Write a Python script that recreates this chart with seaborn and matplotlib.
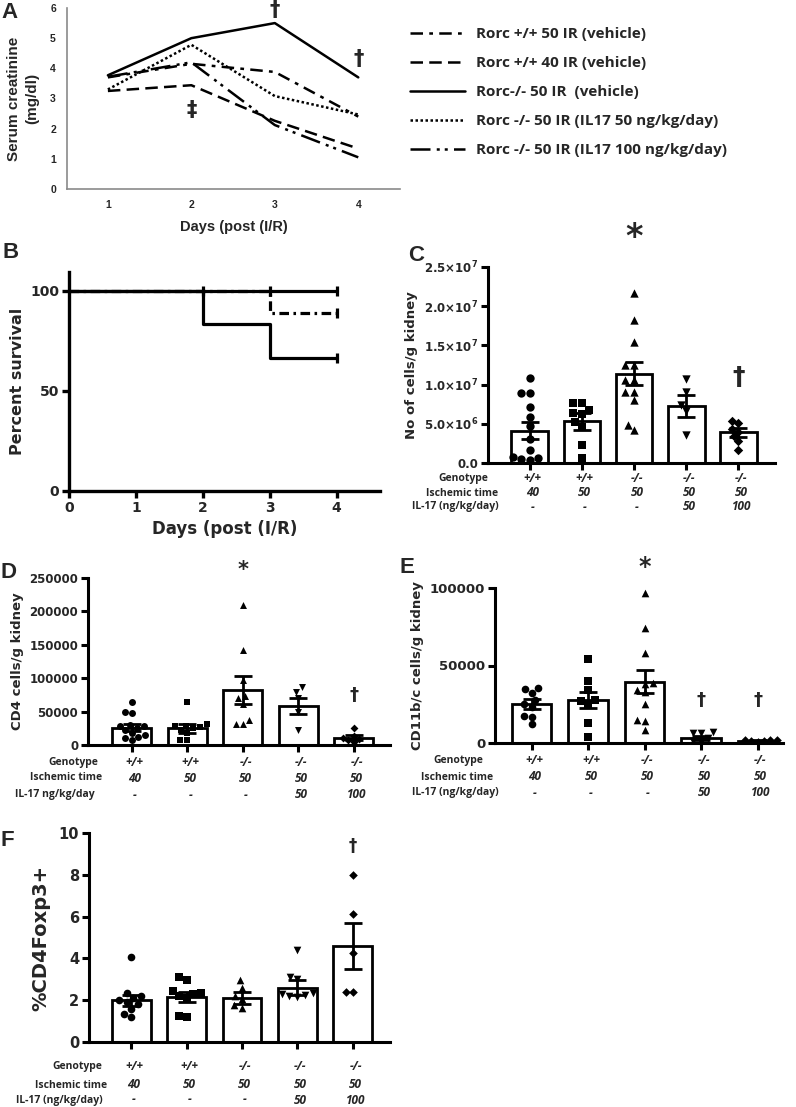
import numpy as np
import pandas as pd
import matplotlib
matplotlib.use('Agg')
import matplotlib.pyplot as plt
from matplotlib.ticker import FuncFormatter
import seaborn as sns

sns.set_theme(style='ticks')
plt.rcParams['font.family'] = ['DejaVu Sans']
plt.rcParams['font.weight'] = 'bold'
plt.rcParams['axes.labelweight'] = 'bold'
plt.rcParams['mathtext.default'] = 'bf'

W, H = 796, 1107
ARIAL = 'Liberation Sans'
CALIBRI = 'Open Sans'

# A - serum creatinine (mg/dl)
days_a = [1, 2, 3, 4]
creat_labels = ['Rorc +/+ 50 IR (vehicle)', 'Rorc +/+ 40 IR (vehicle)', 'Rorc-/- 50 IR  (vehicle)',
                'Rorc -/- 50 IR (IL17 50 ng/kg/day)', 'Rorc -/- 50 IR (IL17 100 ng/kg/day)']
creat_wt50 = [3.7, 4.15, 3.88, 2.4]
creat_wt40 = [3.25, 3.44, 2.26, 1.34]
creat_ko = [3.77, 5.0, 5.5, 3.7]
creat_il50 = [3.3, 4.78, 3.08, 2.47]
creat_il100 = [3.72, 4.2, 2.12, 1.05]

# B - percent survival
surv_days = [0, 2, 3, 4]
surv_labels = ['Rorc +/+', 'Rorc +/+ 50', 'Rorc-/- 50']
surv_wt = [100, 100, 100, 100]
surv_wt50 = [100, 100, 88.9, 88.9]
surv_ko = [100, 83.3, 66.7, 66.7]
censor_days = [2, 3, 4, 4, 4]
censor_pct = [100, 100, 100, 88.9, 66.7]

# groups for C-F
groups = ['wt40', 'wt50', 'ko50', 'ko50_il50', 'ko50_il100']
genotype = ['+/+', '+/+', '-/-', '-/-', '-/-']
isch_time = ['40', '50', '50', '50', '50']
il17_dose = ['-', '-', '-', '50', '100']
markers = ['o', 's', '^', 'v', 'D']

# C - total cells per g kidney
c_pts = [[10.8e6, 8.9e6, 8.9e6, 7.1e6, 5.9e6, 4.7e6, 3.1e6, 1.7e6, 0.8e6, 0.6e6, 0.5e6, 0.4e6],
         [7.7e6, 7.7e6, 6.8e6, 6.4e6, 6.2e6, 5.2e6, 4.6e6, 2.3e6, 0.6e6],
         [21.7e6, 18.2e6, 15.4e6, 12.5e6, 12.5e6, 10.6e6, 10.6e6, 9.1e6, 9.1e6, 8.0e6, 4.9e6, 4.2e6],
         [10.7e6, 9.0e6, 7.4e6, 6.6e6, 3.6e6],
         [5.4e6, 5.1e6, 4.4e6, 4.0e6, 3.4e6, 2.8e6, 1.7e6]]
c_mean = [4.1e6, 5.3e6, 11.4e6, 7.3e6, 3.9e6]
c_sem = [1.1e6, 1.05e6, 1.5e6, 1.4e6, 0.55e6]

# D - CD4 cells per g kidney
d_pts = [[64000, 50000, 48000, 30000, 29000, 28000, 26000, 22000, 18000, 15000, 12000, 10000, 7000],
         [64000, 31000, 29000, 28000, 27000, 25000, 22000, 18000, 8000, 7000],
         [209000, 142000, 97000, 73000, 70000, 62000, 37000, 32000, 32000],
         [87000, 80000, 70000, 50000, 23000],
         [26000, 14000, 11000, 9000, 7000, 5000]]
d_mean = [26000, 25000, 82500, 58500, 11000]
d_sem = [5000, 6500, 21500, 12500, 4000]

# E - CD11b/c cells per g kidney
e_pts = [[35500, 35000, 32500, 27500, 25000, 23000, 17500, 17000, 12000],
         [54500, 40000, 34000, 28000, 27000, 25000, 13000, 4000],
         [97000, 74000, 58000, 38500, 38000, 34000, 33000, 25000, 15000, 14500, 8500],
         [7000, 6500, 6500, 3000, 1500, 500],
         [2200, 2000, 1800, 1500, 1200, 900]]
e_mean = [25000, 27700, 39600, 3200, 1500]
e_sem = [3200, 5000, 7500, 1000, 300]

# F - % CD4 Foxp3+
f_pts = [[4.05, 2.35, 2.2, 2.1, 2.0, 1.9, 1.8, 1.6, 1.35, 1.2],
         [3.1, 2.95, 2.45, 2.35, 2.3, 2.2, 2.1, 1.25, 1.2],
         [2.95, 2.6, 2.2, 2.05, 1.75, 1.65],
         [4.4, 3.1, 3.0, 2.35, 2.3, 2.25, 2.2, 2.15],
         [7.97, 6.14, 4.26, 2.39, 2.39]]
f_mean = [2.0, 2.15, 2.1, 2.6, 4.6]
f_sem = [0.26, 0.24, 0.29, 0.35, 1.1]


fig = plt.figure(figsize=(W / 100, H / 100), dpi=100)


def px_axes(l, t, r, b):
    return fig.add_axes([l / W, 1 - b / H, (r - l) / W, (b - t) / H])


def fig_text(x, y, s, **kw):
    fig.text(x / W, 1 - y / H, s, **kw)


def style_gp(ax, lw=2.2):
    sns.despine(ax=ax)
    for sp in ['left', 'bottom']:
        ax.spines[sp].set_linewidth(lw)
        ax.spines[sp].set_color('black')
    ax.tick_params(width=lw, length=5, direction='out', color='black', pad=2)


# ---------------- A ----------------
axA = px_axes(67, 8, 400, 189)
df_a = pd.DataFrame({'day': days_a * 5,
                     'creat': creat_wt50 + creat_wt40 + creat_ko + creat_il50 + creat_il100,
                     'group': np.repeat(creat_labels, len(days_a))})
dash_map = {creat_labels[0]: (5, 2.5, 1.5, 2.5),
            creat_labels[1]: (5, 2.5),
            creat_labels[2]: '',
            creat_labels[3]: (1, 1),
            creat_labels[4]: (8, 2.5, 1.2, 2, 1.2, 2.5)}
sns.lineplot(data=df_a, x='day', y='creat', style='group', style_order=creat_labels,
             dashes=dash_map, color='black', lw=1.8, estimator=None, sort=False, ax=axA)
leg = axA.get_legend()
handles = leg.legend_handles
labels = [t.get_text() for t in leg.get_texts()]
leg.remove()
for h in handles:
    h.set_linewidth(1.8)
    h.set_color('black')
fig.legend(handles, labels, loc='upper left', bbox_to_anchor=(410 / W, 1 - 27 / H),
           frameon=False, handlelength=3.6, labelspacing=0.98, handletextpad=0.75,
           borderaxespad=0, borderpad=0,
           prop=dict(family=CALIBRI, weight='bold', size=11))
axA.set_xlim(0.51, 4.5)
axA.set_ylim(0, 6)
axA.set_xticks(days_a)
axA.set_yticks(range(0, 7))
sns.despine(ax=axA)
for sp in ['left', 'bottom']:
    axA.spines[sp].set_color('#8a8a8a')
    axA.spines[sp].set_linewidth(1.2)
axA.tick_params(length=0, labelsize=7.5, pad=8)
for t in axA.get_xticklabels() + axA.get_yticklabels():
    t.set_family(ARIAL)
    t.set_weight('bold')
axA.set_xlabel('Days (post (I/R)', family=ARIAL, fontsize=10.5, labelpad=7)
axA.set_ylabel('Serum creatinine\n(mg/dl)', family=ARIAL, fontsize=11, linespacing=1.35, labelpad=8)
axA.text(3, 5.93, '\u2020', ha='center', va='center', fontsize=15, fontweight='bold')
axA.text(4, 4.3, '\u2020', ha='center', va='center', fontsize=15, fontweight='bold')
axA.text(2, 2.62, '\u2021', ha='center', va='center', fontsize=15, fontweight='bold')

# ---------------- B ----------------
axB = px_axes(69, 272, 380, 491)
df_b = pd.DataFrame({'day': surv_days * 3,
                     'pct': surv_wt + surv_wt50 + surv_ko,
                     'group': np.repeat(surv_labels, len(surv_days))})
sns.lineplot(data=df_b, x='day', y='pct', style='group', style_order=surv_labels,
             dashes={surv_labels[0]: '', surv_labels[1]: (3, 1.4, 0.8, 1.4), surv_labels[2]: ''},
             color='black', lw=2.3, estimator=None, sort=False, drawstyle='steps-post',
             legend=False, ax=axB)
sns.scatterplot(x=censor_days, y=censor_pct, marker='|', s=45, color='black', linewidth=2.3,
                ax=axB, zorder=5, clip_on=False)
axB.set_xlim(0, 4.65)
axB.set_ylim(0, 109.5)
axB.set_xticks([0, 1, 2, 3, 4])
axB.set_yticks([0, 50, 100])
style_gp(axB, 2.4)
axB.tick_params(labelsize=10)
axB.set_xlabel('Days (post (I/R)', fontsize=12, labelpad=4)
axB.set_ylabel('Percent survival', fontsize=11.5, labelpad=4)


# ---------------- bar panels ----------------
def bar_panel(ax, pts, means, sems, msize):
    sns.barplot(x=groups, y=means, order=groups, color='white', edgecolor='black',
                linewidth=2, width=0.7, errorbar=None, ax=ax, zorder=2)
    ax.errorbar(range(len(groups)), means, yerr=sems, fmt='none', ecolor='black',
                elinewidth=2, capsize=6.5, capthick=2, zorder=4)
    for g, vals, mk in zip(groups, pts, markers):
        sns.swarmplot(x=[g] * len(vals), y=vals, order=groups, marker=mk, color='black',
                      size=msize * (0.8 if mk == 'D' else 1), ax=ax, zorder=5)
    style_gp(ax)
    ax.tick_params(labelbottom=False)
    ax.set_xlabel('')


def group_rows(ax, bottom_px, rows_px, head_x, heads, size=7.5):
    for vals, ry in zip([genotype, isch_time, il17_dose], rows_px):
        off = (ry - bottom_px) * 0.72
        for i, v in enumerate(vals):
            ax.annotate(v, xy=(i, 0), xycoords=('data', 'axes fraction'),
                        xytext=(2, -off), textcoords='offset points', ha='center', va='center',
                        family=CALIBRI, style='italic', weight='bold', fontsize=size + 1,
                        annotation_clip=False)
    for hx, ry, h in zip(head_x, rows_px, heads):
        fig_text(hx, ry, h, ha='center', va='center', family=CALIBRI, weight='bold', fontsize=size)


def sig(ax, x, y, s, size):
    ax.text(x, y, s, ha='center', va='center', fontsize=size, fontweight='bold', clip_on=False)


heads_full = ['Genotype', 'Ischemic time', 'IL-17 (ng/kg/day)']

# C
axC = px_axes(488, 267, 775, 463)
bar_panel(axC, c_pts, c_mean, c_sem, 6)
axC.set_xlim(-0.8, 4.7)
axC.set_ylim(0, 2.5e7)
axC.set_yticks(np.arange(0, 2.51e7, 5e6))


def sci_fmt(v, pos):
    if v == 0:
        return '0.0'
    e = int(np.floor(np.log10(v)))
    return r'$%.1f{\times}10^{%d}$' % (v / 10 ** e, e)


axC.yaxis.set_major_formatter(FuncFormatter(sci_fmt))
axC.tick_params(axis='y', labelsize=8.5)
axC.set_ylabel('No of cells/g kidney', fontsize=9.5, labelpad=4)
sig(axC, 2, 2.88e7, '*', 24)
sig(axC, 4, 1.1e7, '\u2020', 18)
group_rows(axC, 463, [478, 493, 507], [463, 462, 455], heads_full)

# D
axD = px_axes(88, 578, 390, 745)
bar_panel(axD, d_pts, d_mean, d_sem, 5)
axD.set_xlim(-0.79, 4.65)
axD.set_ylim(0, 250000)
axD.set_yticks(range(0, 250001, 50000))
axD.tick_params(axis='y', labelsize=8.5)
axD.set_ylabel('CD4 cells/g kidney', fontsize=9.5, labelpad=4)
sig(axD, 2, 262000, '*', 15)
sig(axD, 4, 75000, '\u2020', 13)
group_rows(axD, 745, [763, 778, 795], [73, 66, 55], ['Genotype', 'Ischemic time', 'IL-17 ng/kg/day'])

# E
axE = px_axes(495, 588, 783, 743)
bar_panel(axE, e_pts, e_mean, e_sem, 5.5)
axE.set_xlim(-0.65, 4.45)
axE.set_ylim(0, 100000)
axE.set_yticks([0, 50000, 100000])
axE.tick_params(axis='y', labelsize=9.5)
axE.set_ylabel('CD11b/c cells/g kidney', fontsize=9.5, labelpad=4)
sig(axE, 2, 113500, '*', 17)
sig(axE, 3, 28000, '\u2020', 13)
sig(axE, 4, 28000, '\u2020', 13)
group_rows(axE, 743, [760, 777, 793], [458, 457, 455], heads_full)

# F
axF = px_axes(89, 833, 390, 1042)
bar_panel(axF, f_pts, f_mean, f_sem, 5.5)
axF.set_xlim(-0.76, 4.67)
axF.set_ylim(0, 10)
axF.set_yticks(range(0, 11, 2))
axF.tick_params(axis='y', labelsize=10.5)
axF.set_ylabel('%CD4Foxp3+', fontsize=14, labelpad=6)
sig(axF, 4, 9.4, '\u2020', 12)
group_rows(axF, 1042, [1067, 1085, 1100], [77, 71, 59], heads_full)

# panel letters
for lx, ly, letter in [(1, 2, 'A'), (2, 242, 'B'), (408, 245, 'C'), (0, 562, 'D'), (400, 557, 'E'), (0, 830, 'F')]:
    fig_text(lx, ly, letter, ha='left', va='top', family=ARIAL, weight='bold', fontsize=16)

fig.savefig('out.png', dpi=100)
